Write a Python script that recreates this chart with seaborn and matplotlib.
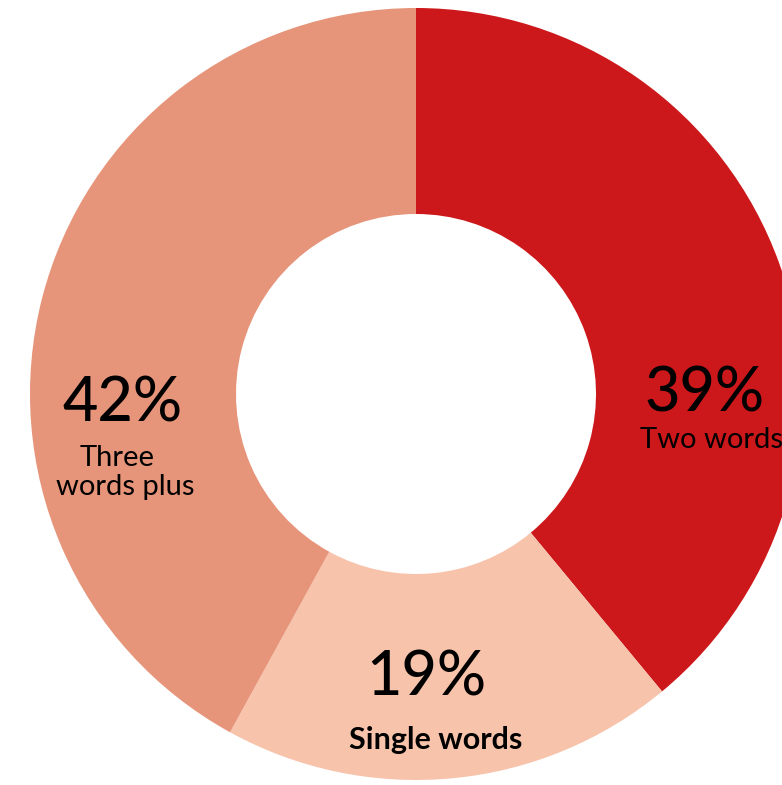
import matplotlib
matplotlib.use("Agg")
import matplotlib.pyplot as plt
import seaborn as sns

# Share of search terms by length
categories = ["Two words", "Single words", "Three words plus"]
shares = [39, 19, 42]
pct_labels = ["39%", "19%", "42%"]
colors = ["#CD181B", "#F8C3AB", "#E6957A"]

sns.set_theme(style="white")
plt.rcParams["font.family"] = ["Lato", "DejaVu Sans"]

W, H = 782, 785
fig = plt.figure(figsize=(W / 100, H / 100), dpi=100)
ax = fig.add_axes([0, 0, 1, 1])

cx, cy = 416, H - 394
r_out, r_in = 386, 180

ax.pie(shares, colors=colors, startangle=90, counterclock=False,
       radius=r_out, center=(cx, cy),
       wedgeprops=dict(width=r_out - r_in, linewidth=0))

ax.set_xlim(0, W)
ax.set_ylim(0, H)
ax.set_aspect("equal")
ax.set_axis_off()

big = 44
small = 21

# Two words
ax.text(705, H - 412, pct_labels[0], ha="center", va="baseline", fontsize=big,
        fontweight="medium", color="black")
ax.text(712, H - 448, categories[0], ha="center", va="baseline", fontsize=small, color="black")

# Single words
ax.text(426, H - 695, pct_labels[1], ha="center", va="baseline", fontsize=big,
        fontweight="medium", color="black")
ax.text(436, H - 749, categories[1], ha="center", va="baseline", fontsize=22,
        fontweight="bold", color="black")

# Three words plus
ax.text(123, H - 422, pct_labels[2], ha="center", va="baseline", fontsize=big,
        fontweight="medium", color="black")
ax.text(117, H - 466, "Three", ha="center", va="baseline", fontsize=small, color="black")
ax.text(125, H - 495, "words plus", ha="center", va="baseline", fontsize=small, color="black")

fig.savefig("out.png", dpi=100)
